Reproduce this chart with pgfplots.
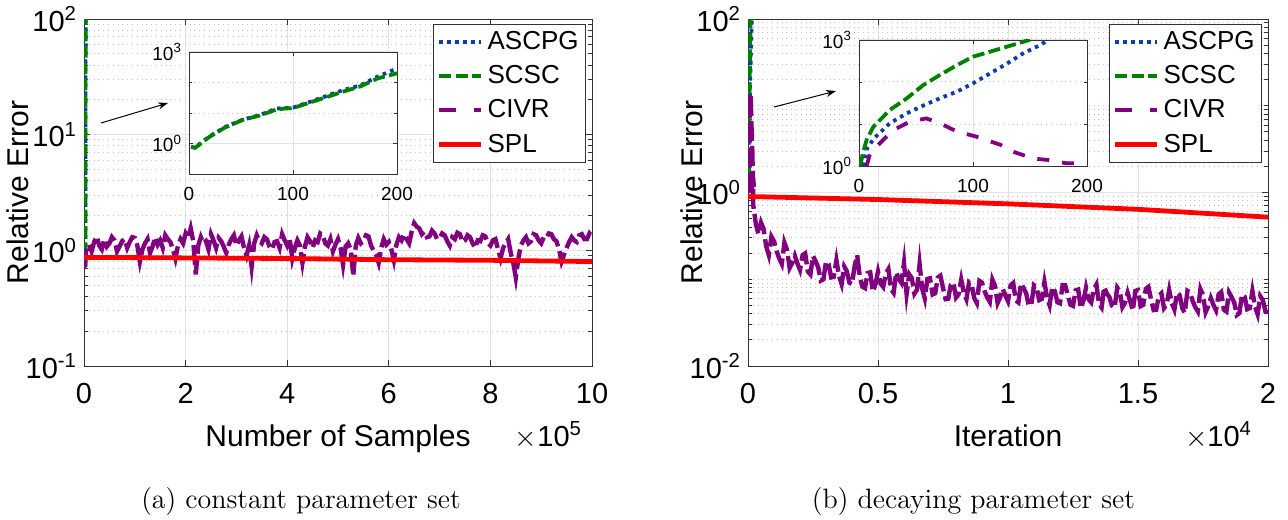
\documentclass[border=0pt]{standalone}
\usepackage{fontspec}
\newfontfamily\helv{Liberation Sans}
\usepackage{pgfplots}
\usepackage{pgfplotstable}
\pgfplotsset{compat=1.18}
\usetikzlibrary{arrows.meta}

\definecolor{cascpg}{RGB}{10,60,170}
\definecolor{cscsc}{RGB}{0,128,0}
\definecolor{ccivr}{RGB}{128,0,128}
\definecolor{cspl}{RGB}{255,0,0}

% inset of (a): iteration, ASCPG, SCSC
\pgfplotstableread{
x a s
2 0.78 0.78
6 0.72 0.72
11 1.0 1.0
19 1.65 1.6
35 3.5 3.4
52 6.1 6.0
68 8.5 8.3
84 14 13
92 14.5 14
100 15 14.5
116 23 22
132 36 33
148 56 50
165 81 75
181 154 135
200 288 200
}\insetL

% (a) CIVR, samples in 1e5
\pgfplotstableread{
x y
0.00 0.70
0.05 1.05
0.10 1.12
0.15 0.98
0.20 1.18
0.25 1.32
0.30 1.10
0.35 1.02
0.40 1.25
0.45 1.08
0.50 1.15
0.55 1.30
0.60 1.22
0.65 0.98
0.70 1.08
0.75 1.20
0.80 1.25
0.85 1.05
0.90 1.18
0.95 1.30
1.00 1.28
1.05 1.10
1.10 0.80
1.15 1.02
1.20 1.15
1.25 1.25
1.30 0.95
1.35 1.08
1.40 1.30
1.45 1.12
1.50 1.22
1.55 1.05
1.60 1.35
1.65 1.25
1.70 1.18
1.75 1.02
1.80 0.85
1.85 1.10
1.90 1.25
1.95 1.15
2.00 1.40
2.05 1.28
2.10 1.55
2.15 1.20
2.20 0.62
2.25 1.10
2.30 1.30
2.35 1.15
2.40 1.20
2.45 1.02
2.50 1.38
2.55 1.22
2.60 1.05
2.65 1.28
2.70 1.20
2.75 1.08
2.80 0.95
2.85 1.12
2.90 1.25
2.95 1.35
3.00 1.10
3.05 1.22
3.10 1.32
3.15 1.05
3.20 0.90
3.25 1.10
3.30 0.72
3.35 1.15
3.40 1.35
3.45 1.20
3.50 1.15
3.55 1.30
3.60 1.25
3.65 1.08
3.70 1.02
3.75 1.18
3.80 1.20
3.85 1.05
3.90 1.38
3.95 1.22
4.00 1.10
4.05 1.25
4.10 0.85
4.15 1.05
4.20 1.22
4.25 1.10
4.30 0.78
4.35 1.08
4.40 1.30
4.45 1.20
4.50 1.05
4.55 1.22
4.60 1.18
4.65 1.40
4.70 1.35
4.75 1.15
4.80 1.10
4.85 1.25
4.90 0.98
4.95 1.12
5.00 1.25
5.05 1.05
5.10 0.75
5.15 1.08
5.20 1.15
5.25 1.02
5.30 0.60
5.35 1.10
5.40 1.28
5.45 1.15
5.50 1.20
5.55 1.35
5.60 1.32
5.65 1.10
5.70 1.00
5.75 0.92
5.80 0.78
5.85 1.05
5.90 1.25
5.95 1.12
6.00 1.18
6.05 1.02
6.10 0.82
6.15 1.12
6.20 1.30
6.25 1.22
6.30 1.38
6.35 1.25
6.40 1.15
6.45 1.45
6.50 1.72
6.55 1.60
6.60 1.55
6.65 1.38
6.70 1.45
6.75 1.30
6.80 1.32
6.85 1.48
6.90 1.40
6.95 1.25
7.00 1.28
7.05 1.40
7.10 1.35
7.15 1.20
7.20 1.10
7.25 1.30
7.30 1.25
7.35 1.42
7.40 1.38
7.45 1.18
7.50 1.22
7.55 1.35
7.60 1.30
7.65 1.15
7.70 1.05
7.75 1.22
7.80 1.20
7.85 1.35
7.90 1.32
7.95 1.15
8.00 1.10
8.05 1.22
8.10 1.25
8.15 1.02
8.20 0.85
8.25 1.05
8.30 1.15
8.35 1.25
8.40 0.95
8.45 0.78
8.50 0.58
8.55 0.85
8.60 1.10
8.65 1.22
8.70 1.30
8.75 1.15
8.80 1.20
8.85 1.38
8.90 1.35
8.95 1.22
9.00 1.15
9.05 1.30
9.10 1.28
9.15 1.40
9.20 1.38
9.25 1.25
9.30 1.20
9.35 1.02
9.40 0.80
9.45 0.92
9.50 1.05
9.55 1.18
9.60 1.30
9.65 1.22
9.70 1.18
9.75 1.35
9.80 1.38
9.85 1.25
9.90 1.25
9.95 1.40
10.00 1.32
}\civrL

% inset of (b), iterations
\pgfplotstableread{
x y
4 1
7 2.6
13 4.5
27 10.4
42 18
57 28
71 41
86 59
100 93
115 160
130 277
144 480
159 760
166 1000
}\ascpgR

\pgfplotstableread{
x y
1 1
3.8 2.2
6.7 4.2
12.6 8.6
27 21.5
42 41
56.5 85
71 147
86 253
100 400
115 527
130 695
147 960
150 1000
}\scscR

\pgfplotstableread{
x y
6.7 1
9.7 2
18.4 3.5
30 7.2
45 11.4
59 13.6
71 10.4
86 6.6
103 5
124 3.2
135 2.2
153 1.5
165 1.4
182 1.16
191 1.16
}\civrRin

% (b) CIVR, iterations in 1e4
\pgfplotstableread{
x y
0.0195 1.1
0.02 0.72
0.03 0.44
0.04 0.33
0.05 0.45
0.06 0.38
0.07 0.24
0.08 0.19
0.09 0.31
0.10 0.275
0.11 0.212
0.12 0.174
0.13 0.150
0.14 0.265
0.15 0.219
0.16 0.135
0.17 0.154
0.18 0.187
0.19 0.152
0.20 0.128
0.21 0.190
0.22 0.199
0.23 0.123
0.24 0.114
0.25 0.186
0.26 0.161
0.27 0.137
0.28 0.0965
0.29 0.0996
0.30 0.16
0.31 0.149
0.32 0.105
0.33 0.107
0.34 0.166
0.35 0.109
0.36 0.088
0.37 0.140
0.38 0.124
0.39 0.0914
0.40 0.088
0.41 0.142
0.42 0.19
0.43 0.1065
0.44 0.082
0.45 0.079
0.46 0.118
0.47 0.120
0.48 0.072
0.49 0.087
0.50 0.1225
0.51 0.089
0.52 0.0816
0.53 0.1165
0.54 0.131
0.55 0.077
0.56 0.0698
0.57 0.120
0.58 0.101
0.59 0.091
0.60 0.155
0.61 0.0676
0.62 0.114
0.63 0.103
0.64 0.068
0.65 0.0757
0.66 0.15
0.67 0.0777
0.68 0.060
0.69 0.101
0.70 0.1025
0.71 0.0668
0.72 0.069
0.73 0.1047
0.74 0.110
0.75 0.0795
0.76 0.059
0.77 0.0597
0.78 0.086
0.79 0.0915
0.80 0.0616
0.81 0.0673
0.82 0.099
0.83 0.0697
0.84 0.0589
0.85 0.0915
0.86 0.0857
0.87 0.0609
0.88 0.0533
0.89 0.0956
0.90 0.0913
0.91 0.0728
0.92 0.0616
0.93 0.0549
0.94 0.099
0.95 0.0843
0.96 0.0533
0.97 0.0623
0.98 0.0776
0.99 0.0647
1.00 0.056
1.01 0.0852
1.02 0.0905
1.03 0.0569
1.04 0.054
1.05 0.0897
1.06 0.0791
1.07 0.0686
1.08 0.0492
1.09 0.0518
1.10 0.085
1.11 0.080
1.12 0.0575
1.13 0.0593
1.14 0.0927
1.15 0.0616
1.16 0.0501
1.17 0.0813
1.18 0.073
1.19 0.0543
1.20 0.0528
1.21 0.0855
1.22 0.0853
1.23 0.0654
1.24 0.0509
1.25 0.0494
1.26 0.0745
1.27 0.0762
1.28 0.0464
1.29 0.0565
1.30 0.08
1.31 0.0587
1.32 0.0541
1.33 0.0773
1.34 0.0872
1.35 0.0517
1.36 0.0471
1.37 0.0814
1.38 0.0686
1.39 0.0622
1.40 0.0496
1.41 0.047
1.42 0.0801
1.43 0.0725
1.44 0.0477
1.45 0.0537
1.46 0.0699
1.47 0.0558
1.48 0.0435
1.49 0.0734
1.50 0.075
1.51 0.049
1.52 0.0507
1.53 0.0772
1.54 0.0817
1.55 0.059
1.56 0.0441
1.57 0.0445
1.58 0.0642
1.59 0.0687
1.60 0.0464
1.61 0.0509
1.62 0.075
1.63 0.0529
1.64 0.0448
1.65 0.0698
1.66 0.0657
1.67 0.0467
1.68 0.0409
1.69 0.0736
1.70 0.0706
1.71 0.0563
1.72 0.0478
1.73 0.0426
1.74 0.0771
1.75 0.0657
1.76 0.0417
1.77 0.0488
1.78 0.0608
1.79 0.0507
1.80 0.044
1.81 0.0669
1.82 0.0711
1.83 0.0447
1.84 0.0424
1.85 0.0705
1.86 0.0622
1.87 0.054
1.88 0.0387
1.89 0.0407
1.90 0.0669
1.91 0.0629
1.92 0.0452
1.93 0.0466
1.94 0.073
1.95 0.0485
1.96 0.0395
1.97 0.0639
1.98 0.0575
1.99 0.0427
2.00 0.0416
}\civrR

\pgfplotsset{
  ascpg/.style={color=cascpg, line width=1.9pt, dash pattern=on 1.8pt off 2.2pt},
  scsc/.style={color=cscsc, line width=1.9pt, dash pattern=on 6pt off 2.2pt},
  civr/.style={color=ccivr, line width=1.9pt, dash pattern=on 8.5pt off 9pt},
  civrin/.style={color=ccivr, line width=1.9pt, dash pattern=on 6pt off 6.5pt},
  civrmain/.style={color=ccivr, line width=2.2pt, dash pattern=on 10pt off 2.5pt},
  spl/.style={color=cspl, line width=2.4pt},
  mainax/.style={
    scale only axis, height=173.5pt,
    axis line style={black!80}, tick style={black!80, line width=0.5pt},
    major tick length=3pt, minor tick length=1.8pt,
    xmajorgrids, ymajorgrids, yminorgrids,
    major grid style={gray!22, line width=0.5pt},
    minor grid style={gray!50, dotted, line width=0.5pt},
    tick label style={font=\helv\fontsize{14.5}{16}\selectfont},
    xticklabel style={yshift=-5pt},
    label style={font=\helv\fontsize{15}{17}\selectfont},
    xlabel style={at={(axis description cs:0.5,0)}, anchor=base, yshift=-40pt},
    legend style={at={(1,1)}, anchor=north east, xshift=-3pt, yshift=-2.5pt,
      font=\helv\fontsize{13}{15}\selectfont, draw=black!80, fill=white,
      inner sep=1.5pt, row sep=2.5pt},
    legend cell align=left,
  },
  insetax/.style={
    scale only axis,
    axis line style={black!80}, tick style={black!80, line width=0.4pt},
    major tick length=2pt, minor tick length=1.5pt,
    xmajorgrids, ymajorgrids, yminorgrids,
    major grid style={gray!22, line width=0.5pt},
    minor grid style={gray!50, dotted, line width=0.5pt},
    tick label style={font=\helv\fontsize{9.5}{11}\selectfont},
    xticklabel style={yshift=-3pt},
    xmin=0, xmax=200, xtick={0,100,200}, xticklabels={0,100,200},
    ytick={1,1000}, yticklabels={10\textsuperscript{0},10\textsuperscript{3}},
    minor ytick={10,100},
  },
}
\pgfplotsset{legend image code/.code={\draw (0pt,0pt) -- (21pt,0pt);}}

\begin{document}
\begin{tikzpicture}
\useasboundingbox (0,0) rectangle (644pt,-259.5pt);

% ---------- (a) constant parameter set ----------
\begin{axis}[mainax, ymode=log, at={(42pt,-183pt)}, anchor=south west, width=254pt,
  xmin=0, xmax=10, ymin=0.1, ymax=100,
  xtick={0,2,4,6,8,10}, xticklabels={0,2,4,6,8,10},
  ytick={0.1,1,10,100},
  yticklabels={10\textsuperscript{-1},10\textsuperscript{0},10\textsuperscript{1},10\textsuperscript{2}},
  minor ytick={0.2,0.3,0.4,0.5,0.6,0.7,0.8,0.9,2,3,4,5,6,7,8,9,20,30,40,50,60,70,80,90},
  xlabel={Number of Samples},
  ylabel={Relative Error},
  ylabel style={at={(axis description cs:-0.13,0.5)}, anchor=center},
]
\addplot[ascpg] table[x expr=\thisrow{x}/1e5+0.03, y=a] {\insetL};
\addlegendentry{ASCPG}
\addplot[scsc] table[x expr=\thisrow{x}/1e5+0.03, y=s] {\insetL};
\addlegendentry{SCSC}
\addplot[civrmain, forget plot] table[x=x, y=y] {\civrL};
\addlegendimage{civr}
\addlegendentry{CIVR}
\addplot[spl] coordinates {(0,0.87) (2,0.86) (4,0.85) (6,0.83) (8,0.82) (10,0.80)};
\addlegendentry{SPL}
\end{axis}

\draw[-{Stealth[length=5pt,width=3.5pt]}, line width=0.5pt] (50.5pt,-61.5pt) -- (84pt,-51.5pt);

\begin{axis}[insetax, ymode=log, axis background/.style={fill=white},
  at={(94.5pt,-87pt)}, anchor=south west,
  width=104pt, height=61pt, ymin=0.1, ymax=1000]
\addplot[ascpg] table[x=x, y=a] {\insetL};
\addplot[scsc] table[x=x, y=s] {\insetL};
\end{axis}

\node[anchor=base east, font=\helv\fontsize{14.5}{16}\selectfont] at (294.5pt,-223pt) {$\times$10\textsuperscript{5}};
\node[anchor=base, font=\fontsize{14}{16}\selectfont] at (150.5pt,-254pt) {(a) constant parameter set};

% ---------- (b) decaying parameter set ----------
\begin{axis}[mainax, ymode=log, at={(374pt,-183pt)}, anchor=south west, width=260pt,
  xmin=0, xmax=2, ymin=0.01, ymax=100,
  xtick={0,0.5,1,1.5,2}, xticklabels={0,0.5,1,1.5,2},
  ytick={0.01,1,100},
  yticklabels={10\textsuperscript{-2},10\textsuperscript{0},10\textsuperscript{2}},
  minor ytick={0.02,0.03,0.04,0.05,0.06,0.07,0.08,0.09,0.1,0.2,0.3,0.4,0.5,0.6,0.7,0.8,0.9,2,3,4,5,6,7,8,9,10,20,30,40,50,60,70,80,90},
  xlabel={Iteration},
  ylabel={Relative Error},
  ylabel style={at={(axis description cs:-0.108,0.5)}, anchor=center},
]
\addplot[ascpg] table[x expr=\thisrow{x}/1e4+0.004, y=y] {\ascpgR};
\addlegendentry{ASCPG}
\addplot[scsc] table[x expr=\thisrow{x}/1e4+0.004, y=y] {\scscR};
\addlegendentry{SCSC}
\addplot[civrmain, forget plot] table[x expr=\thisrow{x}/1e4+0.004, y=y] {\civrRin};
\addplot[civrmain, forget plot] table[x=x, y=y] {\civrR};
\addlegendimage{civr}
\addlegendentry{CIVR}
\addplot[spl] coordinates {(0,0.90) (0.5,0.83) (1,0.74) (1.5,0.64) (2,0.52)};
\addlegendentry{SPL}
\end{axis}

\draw[-{Stealth[length=5pt,width=3.5pt]}, line width=0.5pt] (387pt,-53.5pt) -- (418pt,-45.5pt);

\begin{axis}[insetax, ymode=log, axis background/.style={fill=white},
  at={(429.5pt,-83pt)}, anchor=south west,
  width=114pt, height=63pt, ymin=1, ymax=1000]
\addplot[ascpg] table[x=x, y=y] {\ascpgR};
\addplot[scsc] table[x=x, y=y] {\scscR};
\addplot[civrin] table[x=x, y=y] {\civrRin};
\end{axis}

\node[anchor=base east, font=\helv\fontsize{14.5}{16}\selectfont] at (629.5pt,-223pt) {$\times$10\textsuperscript{4}};
\node[anchor=base, font=\fontsize{14}{16}\selectfont] at (486.75pt,-254pt) {(b) decaying parameter set};
\end{tikzpicture}
\end{document}
